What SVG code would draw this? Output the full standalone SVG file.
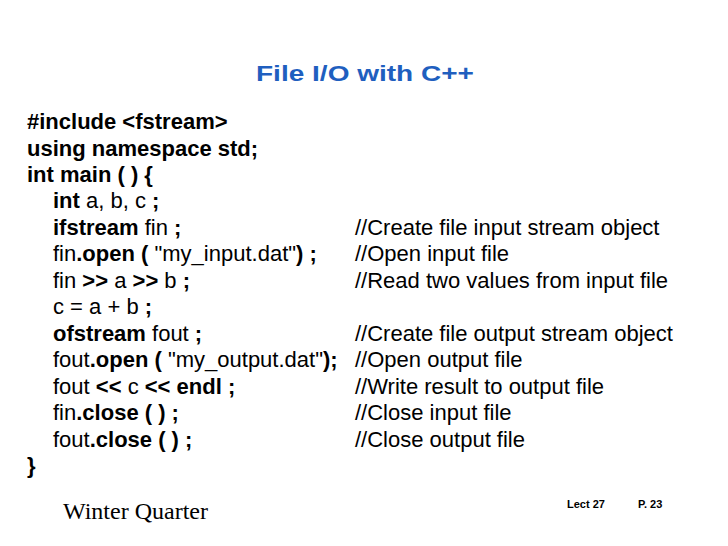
<svg xmlns="http://www.w3.org/2000/svg" width="728" height="546" viewBox="0 0 728 546">
<style>
.c{font-family:"Liberation Sans",Arial,sans-serif;font-size:22px;fill:#000}
.b{font-weight:bold}
.t{font-family:"Liberation Sans",Arial,sans-serif;font-size:22px;font-weight:bold;fill:#1f5fbf}
.f{font-family:"Liberation Sans",Arial,sans-serif;font-size:11px;font-weight:bold}
</style>
<rect width="728" height="546" fill="#fff"/>
<text class="t" x="256" y="81" textLength="218" lengthAdjust="spacingAndGlyphs">File I/O with C++</text>
<g id="code" class="c">
<text x="27" y="129" class="b">#include &lt;fstream&gt;</text>
<text x="27" y="156" class="b">using namespace std;</text>
<text x="27" y="182" class="b">int main ( )  {</text>
<text x="53" y="208"><tspan class="b">int</tspan> a, b, c <tspan class="b">;</tspan></text>
<text x="53" y="235"><tspan class="b">ifstream</tspan> fin <tspan class="b">;</tspan></text>
<text x="53" y="261">fin<tspan class="b">.open (</tspan> "my_input.dat"<tspan class="b">) ;</tspan></text>
<text x="53" y="288">fin <tspan class="b">&gt;&gt;</tspan> a <tspan class="b">&gt;&gt;</tspan> b <tspan class="b">;</tspan></text>
<text x="53" y="314">c = a + b <tspan class="b">;</tspan></text>
<text x="53" y="341"><tspan class="b">ofstream</tspan> fout <tspan class="b">;</tspan></text>
<text x="53" y="367">fout<tspan class="b">.open (</tspan> "my_output.dat"<tspan class="b">);</tspan></text>
<text x="53" y="394">fout <tspan class="b">&lt;&lt;</tspan> c <tspan class="b">&lt;&lt;  endl ;</tspan></text>
<text x="53" y="420">fin<tspan class="b">.close ( ) ;</tspan></text>
<text x="53" y="447">fout<tspan class="b">.close ( ) ;</tspan></text>
<text x="27" y="473" class="b">}</text>
<text x="355" y="235">//Create file input stream object</text>
<text x="355" y="261">//Open input file</text>
<text x="355" y="288">//Read two values from input file</text>
<text x="355" y="341">//Create file output stream object</text>
<text x="355" y="367">//Open output file</text>
<text x="355" y="394">//Write result to output file</text>
<text x="355" y="420">//Close input file</text>
<text x="355" y="447">//Close output file</text>
</g>
<text x="63" y="519" style="font-family:'Liberation Serif',serif;font-size:24px">Winter Quarter</text>
<text class="f" x="567" y="508">Lect 27</text>
<text class="f" x="638" y="508">P. 23</text>
</svg>
